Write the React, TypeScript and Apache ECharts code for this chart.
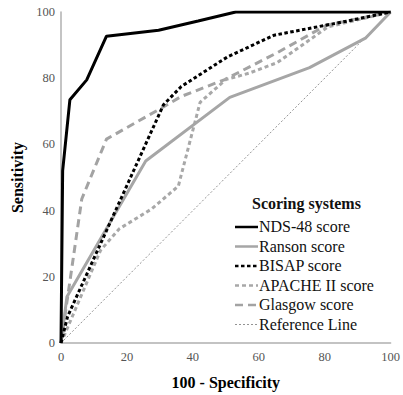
import React, { useEffect, useRef } from "react";
import * as echarts from "echarts";

const seriesNames = ["NDS-48 score", "Ranson score", "BISAP score", "APACHE II score", "Glasgow score", "Reference Line"];

const nds48: number[][] = [[0, 0], [0.5, 52], [2.7, 73.5], [7.8, 79.5], [13.8, 92.7], [29.6, 94.5], [41.6, 97.3], [53, 100], [100, 100]];
const ranson: number[][] = [[0, 0], [1.8, 14], [25.7, 55], [51.2, 74.2], [75.4, 83.2], [92.5, 92.2], [100, 100]];
const bisap: number[][] = [[0, 0], [2, 8], [31.1, 72], [36.5, 77.5], [50.6, 86.5], [64.7, 93], [88.6, 97.6], [100, 100]];
const apache: number[][] = [[0, 0], [12, 28], [17.7, 34.5], [27.5, 40.5], [35.6, 47.4], [42.2, 72.7], [50, 79.6], [57, 81.5], [65.6, 84.7], [81, 95.5], [100, 100]];
const glasgow: number[][] = [[0, 0], [6.3, 43.5], [13.8, 61.6], [30.5, 71], [36.5, 74.5], [49.7, 79.6], [65.6, 87.7], [80.5, 96], [100, 100]];
const reference: number[][] = [[0, 0], [100, 100]];

const xTicks = [0, 20, 40, 60, 80, 100];
const yTicks = [0, 20, 40, 60, 80, 100];

const FONT = "Liberation Serif";

const styles = [
  { color: "#000", width: 3, type: "solid" as any },
  { color: "#a6a6a6", width: 3, type: "solid" as any },
  { color: "#000", width: 3, type: [3.5, 2.5] as any },
  { color: "#a8a8a8", width: 3, type: [4, 3] as any },
  { color: "#a3a3a3", width: 3, type: [8, 5] as any },
  { color: "#777", width: 0.8, type: [2, 2] as any },
];
const seriesData = [nds48, ranson, bisap, apache, glasgow, reference];
const zOrder = [6, 4, 5, 3, 2, 1];

export default function App() {
  const ref = useRef<HTMLDivElement>(null);
  useEffect(() => {
    if (!ref.current) return;
    const chart = echarts.init(ref.current, null, { renderer: "svg" });
    const legendGraphics: any[] = [
      {
        type: "text",
        x: 252,
        y: 195,
        style: { text: "Scoring systems", fontFamily: FONT, fontWeight: "bold", fontSize: 16, fill: "#111" },
      },
    ];
    seriesNames.forEach((name, i) => {
      const y = 227 + i * 19.5;
      const s = styles[i];
      legendGraphics.push({
        type: "line",
        shape: { x1: 235, y1: y, x2: 258, y2: y },
        style: { stroke: s.color, lineWidth: s.width === 3 ? 2.5 : 0.8, lineDash: s.type === "solid" ? null : s.type },
      });
      legendGraphics.push({
        type: "text",
        x: 259,
        y: y - 8.5,
        style: { text: name, fontFamily: FONT, fontSize: 16, fill: "#111" },
      });
    });
    chart.setOption({
      animation: false,
      grid: { left: 61, right: 8, top: 12, bottom: 50, containLabel: false },
      xAxis: {
        type: "value",
        min: xTicks[0],
        max: xTicks[xTicks.length - 1],
        interval: 20,
        name: "100 - Specificity",
        nameLocation: "middle",
        nameGap: 31,
        nameTextStyle: { fontFamily: FONT, fontWeight: "bold", fontSize: 16, color: "#000" },
        axisLine: { show: true, lineStyle: { color: "#b0b0b0", width: 1.5 } },
        axisTick: { show: false },
        splitLine: { show: false },
        axisLabel: { fontFamily: FONT, fontSize: 12.5, color: "#555", margin: 7 },
      },
      yAxis: {
        type: "value",
        min: yTicks[0],
        max: yTicks[yTicks.length - 1],
        interval: 20,
        name: "Sensitivity",
        nameLocation: "middle",
        nameGap: 31,
        nameTextStyle: { fontFamily: FONT, fontWeight: "bold", fontSize: 16, color: "#000" },
        axisLine: { show: true, lineStyle: { color: "#b0b0b0", width: 1.5 } },
        axisTick: { show: false },
        splitLine: { show: false },
        axisLabel: { fontFamily: FONT, fontSize: 12.5, color: "#555", margin: 6 },
      },
      graphic: legendGraphics,
      series: seriesNames.map((name, i) => ({
        name,
        type: "line",
        data: seriesData[i],
        showSymbol: false,
        symbol: "none",
        z: zOrder[i],
        lineStyle: { color: styles[i].color, width: styles[i].width, type: styles[i].type },
        itemStyle: { color: styles[i].color },
      })),
    });
    return () => chart.dispose();
  }, []);
  return <div ref={ref} style={{ width: 403, height: 395, position: "absolute", left: 0, top: 0 }} />;
}
